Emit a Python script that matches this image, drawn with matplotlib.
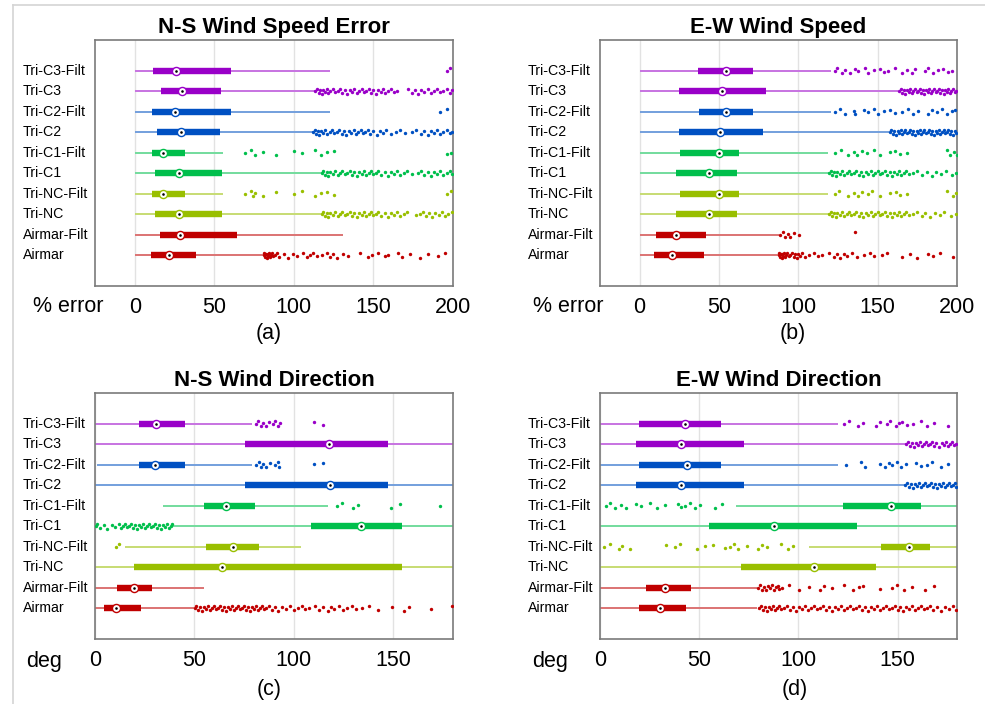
import matplotlib
matplotlib.use('Agg')
import matplotlib.pyplot as plt
from matplotlib.lines import Line2D
from matplotlib.colors import to_rgb
from matplotlib.transforms import blended_transform_factory
import numpy as np

plt.rcParams['font.family'] = ['Liberation Sans', 'DejaVu Sans']

categories = ['Airmar', 'Airmar-Filt', 'Tri-NC', 'Tri-NC-Filt', 'Tri-C1',
              'Tri-C1-Filt', 'Tri-C2', 'Tri-C2-Filt', 'Tri-C3', 'Tri-C3-Filt']

titles = ['N-S Wind Speed Error', 'E-W Wind Speed', 'N-S Wind Direction', 'E-W Wind Direction']
units = ['% error', '% error', 'deg', 'deg']
panel_tags = ['(a)', '(b)', '(c)', '(d)']

# ---------------- Panel (a): N-S Wind Speed Error ----------------
a_lo = [0, 0, 0, 0, 0, 0, 0, 0, 0, 0]
a_q1 = [9.9, 15.9, 12.8, 11.1, 12.8, 11.1, 14.0, 11.1, 16.6, 11.5]
a_med = [21.2, 28.7, 27.5, 18.0, 27.5, 18.0, 29.1, 25.4, 29.6, 25.8]
a_q3 = [38.2, 64.4, 54.7, 31.4, 54.7, 31.4, 53.5, 60.2, 54.1, 60.2]
a_hi = [80.3, 131, 117.4, 55.5, 117.4, 55.5, 112, 122.6, 113.5, 122.6]
a_out_airmar = [81, 81.5, 82, 82.5, 83, 83.5, 84, 84.5, 85, 85.5, 86, 87, 88, 89.1, 90.8,
                93.7, 96.4, 99.6, 101.7, 105.9, 108, 110.1, 111.8, 114.3, 117.4, 120.6,
                122.6, 124.7, 126.8, 131, 134.2, 141.5, 146.8, 148.9, 153, 157.2, 159.3,
                165.6, 167.7, 173, 179.3, 184.5, 190.8, 195]
a_out_airmar_f = []
a_out_nc = [117.5, 118.5, 119.5, 120.5, 121.5, 123, 124.5, 126, 127.5, 129, 130.5, 132,
            133.5, 135, 136.5, 138, 139.5, 141, 142.5, 144, 145.5, 147, 148.5, 150, 151.5,
            153, 155, 157, 159, 161, 163, 165, 167, 169, 171, 177, 179, 181, 183, 185,
            187, 189, 191, 193, 195, 197, 199.5]
a_out_nc_f = [69.2, 72.8, 74, 75.5, 80.3, 88.7, 100.2, 104.8, 113.2, 116.8, 120.5, 125.2, 196, 198.7]
a_out_c1 = [117.5, 118.5, 119.5, 120.5, 121.5, 123, 124.5, 126, 127.5, 129, 130.5, 132,
            133.5, 135, 136.5, 138, 139.5, 141, 142.5, 144, 145.5, 147, 148.5, 150, 151.5,
            153, 155, 157, 159, 161, 163, 165, 167, 169, 171, 174, 178, 180, 182, 184,
            186, 188, 190, 192, 194, 196, 198, 199.5]
a_out_c1_f = [69.2, 72.8, 75.5, 80.3, 88.7, 100.2, 104.8, 113.2, 116.8, 120.5, 125.2, 196, 198.7]
a_out_c2 = [112, 113, 114, 115, 116, 117, 118, 119.5, 121, 122.5, 124, 125.5, 127, 128.5,
            130, 131.5, 133, 134.5, 136, 137.5, 139, 140.5, 142, 143.5, 145, 146.5, 148,
            150, 152, 154, 156, 158, 161, 164, 167, 170, 174, 177, 180, 182, 184, 186,
            188, 190, 192, 194, 196, 198, 199.5]
a_out_c2_f = [191.8, 196]
a_out_c3 = [113.5, 114.5, 115.5, 116.5, 117.5, 118.5, 119.5, 120.5, 121.5, 123, 124.5, 126,
            127.5, 129, 130.5, 132, 133.5, 135, 136.5, 138, 139.5, 141, 142.5, 144, 145.5,
            147, 148.5, 150, 151.5, 153, 154.5, 156, 157.5, 159, 161, 163, 164.5, 172, 174,
            176, 178, 180, 182, 184, 186, 188, 190, 192, 194, 196, 198, 199.5]
a_out_c3_f = [196, 198]
a_out = [a_out_airmar, a_out_airmar_f, a_out_nc, a_out_nc_f, a_out_c1, a_out_c1_f,
         a_out_c2, a_out_c2_f, a_out_c3, a_out_c3_f]

# ---------------- Panel (b): E-W Wind Speed ----------------
b_lo = [0, 0, 0, 0, 0, 0, 0, 0, 0, 0]
b_q1 = [9.2, 10.5, 22.6, 25.2, 22.6, 25.2, 24.7, 37.3, 24.7, 36.9]
b_med = [20.1, 22.9, 44.0, 50.3, 44.0, 50.3, 50.7, 54.7, 51.6, 54.7]
b_q3 = [40.5, 41.7, 61.4, 62.7, 61.4, 62.7, 77.8, 71.5, 79.7, 71.3]
b_hi = [87.2, 87.6, 119.1, 118.7, 119.1, 118.7, 157.2, 120.7, 163.1, 120.7]
b_out_airmar = [87.5, 88, 88.5, 89, 89.5, 90, 90.5, 91, 91.5, 92, 93, 94, 95, 96, 97, 98,
                99, 100, 101, 102.5, 104.4, 106.5, 109.6, 112.4, 114.9, 119.1, 122.2, 124.3,
                126.4, 128.5, 130.6, 133.8, 136.9, 141.7, 145.3, 147.4, 152.6, 155.8, 165.2,
                170.4, 174.6, 182.0, 185.1, 189.3, 197.7]
b_out_airmar_f = [88.7, 90.1, 91.8, 93.5, 94.9, 97.1, 100.2, 135.4]
b_out_nc = [119.5, 120.5, 121.5, 122.5, 123.5, 124.5, 126, 127.5, 129, 130.5, 132, 133.5,
            135, 136.5, 138, 139.5, 141, 142.5, 144, 145.5, 147, 148.5, 150, 151.5, 153,
            154.5, 156, 157.5, 159, 160.5, 162, 163.5, 165, 166.5, 168, 170, 172.5, 175,
            178, 180, 183, 186, 189, 192, 196, 199.5]
b_out_nc_f = [123.3, 125.5, 131.6, 134.8, 137.5, 140, 143.6, 146.5, 151.6, 157.9, 161.4,
              164.2, 168.3, 193.5, 197.5, 199.6]
b_out_c1 = [119.5, 120.5, 121.5, 122.5, 123.5, 124.5, 126, 127.5, 129, 130.5, 132, 133.5,
            135, 136.5, 138, 139.5, 141, 142.5, 144, 145.5, 147, 148.5, 150, 151.5, 153,
            154.5, 156, 157.5, 159, 160.5, 162, 163.5, 165, 166.5, 168, 170, 172.5, 175,
            178, 181, 184, 187, 190, 193, 197, 199.5]
b_out_c1_f = [123.3, 126.8, 131.6, 134.8, 136.9, 140, 143.2, 147.4, 151.6, 157.9, 161,
              164.2, 168.3, 193.5, 195.6, 198.3, 200]
b_out_c2 = [157.5, 158.5, 159.5, 160.5, 161.5, 162.5, 163.5, 164.5, 165.5, 166.5, 167.5,
            168.5, 169.5, 170.5, 171.5, 172.5, 173.5, 174.5, 175.5, 176.5, 177.5, 178.5,
            179.5, 180.5, 181.5, 182.5, 183.5, 184.5, 185.5, 186.5, 187.5, 188.5, 189.5,
            190.5, 191.5, 192.5, 193.5, 194.5, 195.5, 196.5, 197.5, 198.5, 199.5]
b_out_c2_f = [123.3, 126.4, 129.6, 134.8, 135.9, 141.1, 144.2, 147.4, 150.5, 153.7, 157.9,
              161.0, 165.2, 169.4, 172.5, 175.7, 182.0, 184.1, 187.2, 190.4, 193.5, 196.6, 198.7]
b_out_c3 = [163.5, 164.5, 165.5, 166.5, 167.5, 168.5, 169.5, 170.5, 171.5, 172.5, 173.5,
            174.5, 175.5, 176.5, 177.5, 178.5, 179.5, 180.5, 181.5, 182.5, 183.5, 184.5,
            185.5, 186.5, 187.5, 188.5, 189.5, 190.5, 191.5, 192.5, 193.5, 194.5, 195.5,
            196.5, 197.5, 198.5, 199.5]
b_out_c3_f = [122.9, 124.3, 127.5, 129.6, 132.7, 135.9, 137.5, 142.1, 144.2, 147.4, 151.6,
              153.7, 156.8, 161.0, 165.2, 168.3, 171.5, 173.6, 179.9, 182.0, 185.1, 188.2,
              191.4, 194.5, 196.6]
b_out = [b_out_airmar, b_out_airmar_f, b_out_nc, b_out_nc_f, b_out_c1, b_out_c1_f,
         b_out_c2, b_out_c2_f, b_out_c3, b_out_c3_f]

# ---------------- Panel (c): N-S Wind Direction ----------------
c_lo = [0, 0, 0, 15.2, 39.1, 34.1, 0, 1.0, 0, 0]
c_q1 = [4.5, 11.2, 19.7, 55.9, 108.4, 54.9, 75.6, 22.1, 75.6, 22.1]
c_med = [10.4, 19.6, 63.7, 69.6, 133.8, 65.9, 118.1, 30.1, 117.7, 30.8]
c_q3 = [22.9, 28.6, 154.2, 82.3, 154.5, 80.4, 147.5, 45.2, 147.5, 45.3]
c_hi = [50.0, 54.7, 180, 103.5, 180, 116.9, 180, 79.0, 180, 79.0]
c_out_airmar = [50.5, 51, 52, 53, 54, 55, 56, 57, 58, 59, 60, 61, 62, 63, 64, 65, 66, 67,
                68, 69, 70, 71, 72, 73, 74, 75, 76, 77, 78, 79, 80, 81, 82, 83, 84, 85, 86,
                87.5, 89, 90.5, 92, 94, 96, 98, 100, 102, 104, 105.5, 107.7, 110.7, 112.7,
                114.4, 116.9, 118.6, 120.2, 122.7, 124.8, 126.9, 129.4, 131.1, 134.1, 137.8,
                142.5, 149.5, 155.4, 157.9, 168.7, 179.3]
c_out_airmar_f = []
c_out_nc = []
c_out_nc_f = [10.7, 12.0]
c_out_c1 = [0.3, 1, 2.5, 4.5, 6, 8.5, 10, 12, 13, 14, 15, 16, 17, 18, 19, 20, 21, 22, 23,
            24, 25, 26, 27, 28, 29, 30, 31, 32, 33, 34, 35, 36, 37, 38, 38.7]
c_out_c1_f = [121.6, 124.1, 129.8, 132.4, 148.7, 153.3, 173.4]
c_out_c2 = []
c_out_c2_f = [80.9, 82.3, 83.4, 84.6, 86.0, 88.1, 90.6, 91.8, 92.6, 110.2, 114.7]
c_out_c3 = []
c_out_c3_f = [80.9, 82.1, 83.4, 84.6, 86.0, 87.6, 89.3, 90.6, 91.8, 93.0, 110.2, 114.7]
c_out = [c_out_airmar, c_out_airmar_f, c_out_nc, c_out_nc_f, c_out_c1, c_out_c1_f,
         c_out_c2, c_out_c2_f, c_out_c3, c_out_c3_f]

# ---------------- Panel (d): E-W Wind Direction ----------------
d_lo = [0, 0, 0, 105.5, 0, 68.7, 0, 0, 0, 0]
d_q1 = [19.6, 23.4, 71.3, 141.9, 54.8, 122.3, 18.1, 19.9, 18.1, 19.8]
d_med = [30.5, 32.6, 107.7, 155.8, 87.9, 146.9, 41.0, 43.7, 40.9, 43.0]
d_q3 = [43.2, 45.7, 139.4, 166.3, 129.5, 162.1, 72.5, 61.1, 72.5, 61.1]
d_hi = [79.2, 79.2, 180, 180, 180, 180, 153.6, 120.1, 154.1, 120.1]
d_out_airmar = [80, 81, 82, 83, 84, 85, 86, 87, 88, 89, 90, 91.5, 93, 94.5, 96, 97.5, 99,
                100.5, 102, 103.5, 105, 106.5, 108, 109.5, 111, 112.5, 114, 115.5, 117,
                118.5, 120, 121.5, 123, 124.5, 126, 127.5, 129, 130.5, 132, 133.5, 135,
                136.5, 138, 139.5, 141, 142.5, 144, 145.5, 147, 148.5, 150, 151.5, 153,
                154.5, 156, 157.5, 159, 160.5, 162, 163.5, 165, 166.5, 168, 170, 172, 174,
                176, 178, 179.5]
d_out_airmar_f = [79.5, 80.5, 81.5, 82.5, 83.5, 84.5, 85.5, 86.5, 87.5, 88.5, 89.5, 90.5,
                  92, 95.5, 100.5, 105.5, 111.0, 113.0, 117.2, 122.8, 127.8, 130.6, 132.8,
                  141.2, 147.4, 149.9, 153.2, 157.4, 164.1, 168.3]
d_out_nc = []
d_out_nc_f = [2.2, 5.0, 9.5, 11.2, 15.1, 33.5, 38.0, 40.2, 49.1, 53.1, 56.9, 63.1, 65.3,
              67.5, 69.5, 74.2, 79.6, 81.6, 84.2, 91.3, 94.6, 97.1]
d_out_c1 = []
d_out_c1_f = [2.8, 5.0, 7.5, 10.5, 13.1, 18.4, 20.9, 25.1, 28.5, 32.6, 39.4, 41.0, 43.0,
              45.2, 47.7, 50.2, 57.8, 61.5]
d_out_c2 = [153.8, 154.8, 155.8, 156.8, 157.8, 158.8, 159.8, 160.8, 161.8, 162.8, 163.8,
            164.8, 165.8, 166.8, 167.8, 168.8, 169.8, 170.8, 171.8, 172.8, 173.8, 174.8,
            175.8, 176.8, 177.8, 178.8, 179.6]
d_out_c2_f = [124.0, 131.5, 133.5, 141.2, 143.5, 145.7, 147.4, 149.6, 151.9, 154.1, 159.1,
              161.6, 165.0, 167.5, 171.7, 175.4]
d_out_c3 = [154.5, 155.5, 156.5, 157.5, 158.5, 159.5, 160.5, 161.5, 162.5, 163.5, 164.5,
            165.5, 166.5, 167.5, 168.5, 169.5, 171, 172.5, 173.5, 174.5, 175.5, 176.5,
            177.5, 178.5, 179.5]
d_out_c3_f = [123.1, 125.6, 130.1, 132.8, 139.0, 141.2, 144.5, 146.2, 149.1, 150.7, 152.4,
              154.9, 158.0, 161.6, 165.0, 168.3, 175.4]
d_out = [d_out_airmar, d_out_airmar_f, d_out_nc, d_out_nc_f, d_out_c1, d_out_c1_f,
         d_out_c2, d_out_c2_f, d_out_c3, d_out_c3_f]

xlims = [(-25, 200), (-25, 200), (0, 180), (0, 180)]
xticks = [[0, 50, 100, 150, 200], [0, 50, 100, 150, 200], [0, 50, 100, 150], [0, 50, 100, 150]]

# ---------------- styling ----------------
RED, YG, GREEN, BLUE, PURPLE = '#C00000', '#99BF00', '#00BF4C', '#0050C2', '#9900C8'
row_colors = [RED, RED, YG, YG, GREEN, GREEN, BLUE, BLUE, PURPLE, PURPLE]
JITTER = [0.0, 0.11, -0.09, 0.05, -0.13, 0.08, -0.03, 0.13, -0.1, 0.02, 0.1, -0.06]


def lighten(c, f=0.45):
    r, g, b = to_rgb(c)
    return (r + (1 - r) * f, g + (1 - g) * f, b + (1 - b) * f)


W, H = 985, 704
fig = plt.figure(figsize=(W / 100, H / 100), dpi=100)

# axes boxes in pixels: left, top, right, bottom
boxes = [(95, 40, 453, 286), (600, 40, 957, 286), (95, 393, 453, 639), (600, 393, 957, 639)]
label_x = [23, 528, 23, 528]
unit_pos = [(33, 307), (533, 307), (26, 661), (532, 661)]
tag_pos = [(269, 333), (793, 333), (269, 689), (795, 689)]

panels = [(a_lo, a_q1, a_med, a_q3, a_hi, a_out),
          (b_lo, b_q1, b_med, b_q3, b_hi, b_out),
          (c_lo, c_q1, c_med, c_q3, c_hi, c_out),
          (d_lo, d_q1, d_med, d_q3, d_hi, d_out)]

for p, (lo, q1, med, q3, hi, outs) in enumerate(panels):
    l, t, r, b = boxes[p]
    ax = fig.add_axes([l / W, 1 - b / H, (r - l) / W, (b - t) / H])
    for i in range(len(categories)):
        y = i + 1
        c = row_colors[i]
        ax.plot([lo[i], hi[i]], [y, y], color=lighten(c), lw=1.4,
                solid_capstyle='butt', zorder=2)
        ax.plot([q1[i], q3[i]], [y, y], color=c, lw=4.6,
                solid_capstyle='butt', zorder=3)
        o = outs[i]
        if len(o):
            jit = np.array([JITTER[k % len(JITTER)] for k in range(len(o))])
            ax.scatter(o, y + jit, s=6, color=c, lw=0, marker='o', zorder=3)
        ax.scatter([med[i]], [y], s=34, facecolor='white', edgecolor=c, lw=1.0, zorder=4)
        ax.scatter([med[i]], [y], s=3.5, color='black', lw=0, zorder=5)
    ax.set_xlim(*xlims[p])
    ax.set_ylim(-0.5, 11.5)
    ax.set_xticks(xticks[p])
    ax.set_yticks([])
    trans = blended_transform_factory(fig.transFigure, ax.transData)
    for i, cat in enumerate(categories):
        ax.text(label_x[p] / W, i + 1, cat, transform=trans, fontsize=10.2,
                ha='left', va='center', clip_on=False)
    ax.tick_params(axis='x', length=0, pad=8, labelsize=15.5)
    ax.grid(axis='x', color='#e2e2e2', lw=1)
    ax.set_axisbelow(True)
    for s in ax.spines.values():
        s.set_color('#7a7a7a')
        s.set_linewidth(1.2)
    ax.set_title(titles[p], fontsize=16, fontweight='bold', pad=5)
    ux, uy = unit_pos[p]
    fig.text(ux / W, 1 - uy / H, units[p], fontsize=15.5, ha='left', va='center')
    tx, ty = tag_pos[p]
    fig.text(tx / W, 1 - ty / H, panel_tags[p], fontsize=15.5, ha='center', va='center')

# light frame lines of the original figure
fig.add_artist(Line2D([13 / W, 1], [1 - 5 / H, 1 - 5 / H], color='#d4d4d4', lw=1.2,
                      transform=fig.transFigure))
fig.add_artist(Line2D([13 / W, 13 / W], [0, 1 - 5 / H], color='#d4d4d4', lw=1.2,
                      transform=fig.transFigure))

fig.savefig('out.png', dpi=100)
